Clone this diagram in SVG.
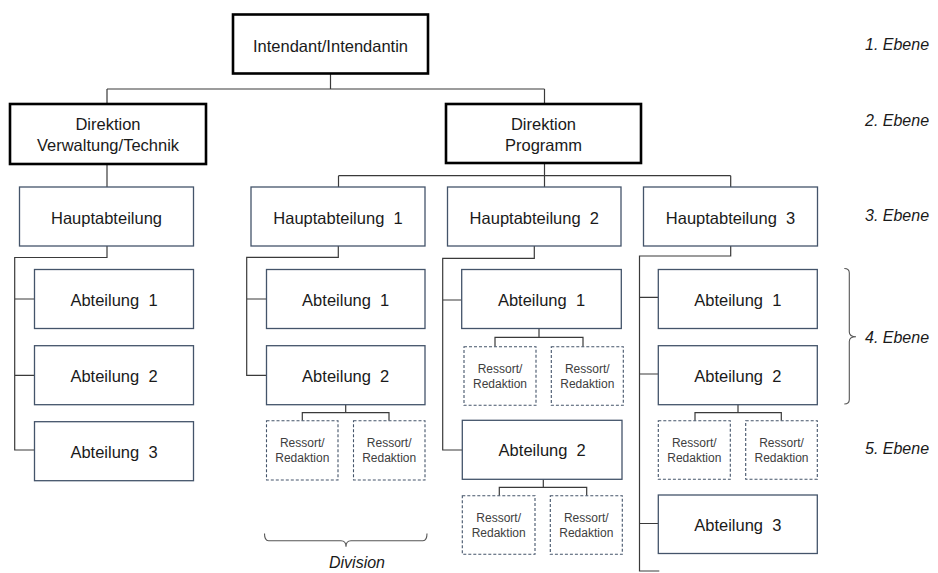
<svg xmlns="http://www.w3.org/2000/svg" width="938" height="573" viewBox="0 0 938 573">
<style>
  .thick { fill: #fff; stroke: #000; stroke-width: 2.6; }
  .thin { fill: #fff; stroke: #44546a; stroke-width: 1.3; }
  .dash { fill: #fff; stroke: #44546a; stroke-width: 1.1; stroke-dasharray: 3 2; }
  .t { font-family: "Liberation Sans", Arial, sans-serif; font-size: 16.5px; fill: #1a1a1a; text-anchor: middle; white-space: pre; }
  .s { font-family: "Liberation Sans", Arial, sans-serif; font-size: 12px; fill: #404040; text-anchor: middle; }
  .lvl { font-family: "Liberation Sans", Arial, sans-serif; font-size: 16px; font-style: italic; fill: #1a1a1a; }
  .con { fill: none; stroke: #3a3a3a; stroke-width: 1.2; }
  .brace { fill: none; stroke: #555; stroke-width: 1.1; }
</style>
<rect width="938" height="573" fill="#fff"/>

<g id="connectors">
  <path class="con" d="M330.5 73 V89 M107 89 H544.5 M107 89 V104 M544.5 89 V104"/>
  <path class="con" d="M107 164 V187"/>
  <path class="con" d="M544.5 163 V187 M338.5 175.7 H730.7 M338.5 175.7 V187 M730.7 175.7 V187"/>
  <path class="con" d="M107 246 V257.5 H14.7 V450 H34.5 M14.7 299 H34.5 M14.7 375.3 H34.5"/>
  <path class="con" d="M338.3 246 V257.3 H246.7 V375.3 H266.5 M246.7 299 H266.5"/>
  <path class="con" d="M345.7 404.3 V412.7 M302.3 420.7 V412.7 H389 V420.7"/>
  <path class="con" d="M534.3 246 V258.3 H442.7 V450 H462.3 M442.7 300 H461.7"/>
  <path class="con" d="M539 328.3 V337.3 M495 346.7 V337.3 H583 V346.7"/>
  <path class="con" d="M543.3 479.3 V487.3 M499.3 495.7 V487.3 H586.7 V495.7"/>
  <path class="con" d="M730.7 246 V256 H639.5 V571 H659.3 M639.5 297.3 H658.3 M639.5 374 H658.3 M639.5 523.5 H658.3"/>
  <path class="con" d="M738 404.3 V412.7 M695 420.7 V412.7 H781.3 V420.7"/>
</g>

<g id="n-intendant">
  <rect class="thick" x="233" y="14.5" width="195" height="59"/>
  <text class="t" x="330.5" y="51.5">Intendant/Intendantin</text>
</g>
<g id="n-dvt">
  <rect class="thick" x="10" y="104" width="196" height="60"/>
  <text class="t" x="108" y="130">Direktion</text>
  <text class="t" x="108" y="150.5">Verwaltung/Technik</text>
</g>
<g id="n-dp">
  <rect class="thick" x="446" y="104" width="195" height="59"/>
  <text class="t" x="543.5" y="130">Direktion</text>
  <text class="t" x="543.5" y="150.5">Programm</text>
</g>

<g id="n-ha">
  <rect class="thin" x="19.5" y="187" width="174" height="59"/>
  <text class="t" x="106.5" y="223.5">Hauptabteilung</text>
</g>
<g id="n-ha1">
  <rect class="thin" x="251" y="187" width="174" height="59"/>
  <text class="t" x="338" y="223.5">Hauptabteilung  1</text>
</g>
<g id="n-ha2">
  <rect class="thin" x="447.5" y="187" width="173.5" height="59"/>
  <text class="t" x="534.3" y="223.5">Hauptabteilung  2</text>
</g>
<g id="n-ha3">
  <rect class="thin" x="643.5" y="187" width="174" height="59"/>
  <text class="t" x="730.5" y="223.5">Hauptabteilung  3</text>
</g>

<g id="n-l-abt1">
  <rect class="thin" x="34.5" y="269.5" width="159" height="59"/>
  <text class="t" x="114" y="305.5">Abteilung  1</text>
</g>
<g id="n-l-abt2">
  <rect class="thin" x="34.5" y="345.7" width="159" height="59"/>
  <text class="t" x="114" y="381.7">Abteilung  2</text>
</g>
<g id="n-l-abt3">
  <rect class="thin" x="34.5" y="421.7" width="159" height="59"/>
  <text class="t" x="114" y="457.7">Abteilung  3</text>
</g>

<g id="n-h1-abt1">
  <rect class="thin" x="266.5" y="269.5" width="158.5" height="59"/>
  <text class="t" x="345.7" y="305.5">Abteilung  1</text>
</g>
<g id="n-h1-abt2">
  <rect class="thin" x="266.5" y="345.7" width="158.5" height="59"/>
  <text class="t" x="345.7" y="381.7">Abteilung  2</text>
</g>
<g id="n-h1-r1">
  <rect class="dash" x="266.5" y="420.7" width="71.5" height="59.3"/>
  <text class="s" x="302.3" y="447.3">Ressort/</text>
  <text class="s" x="302.3" y="462.3">Redaktion</text>
</g>
<g id="n-h1-r2">
  <rect class="dash" x="353.5" y="420.7" width="71.5" height="59.3"/>
  <text class="s" x="389.2" y="447.3">Ressort/</text>
  <text class="s" x="389.2" y="462.3">Redaktion</text>
</g>

<g id="n-h2-abt1">
  <rect class="thin" x="461.7" y="269.5" width="159.6" height="59"/>
  <text class="t" x="541.5" y="305.5">Abteilung  1</text>
</g>
<g id="n-h2-r1">
  <rect class="dash" x="464" y="346.7" width="72" height="58.6"/>
  <text class="s" x="500" y="373.3">Ressort/</text>
  <text class="s" x="500" y="388.3">Redaktion</text>
</g>
<g id="n-h2-r2">
  <rect class="dash" x="551.3" y="346.7" width="72" height="58.6"/>
  <text class="s" x="587.3" y="373.3">Ressort/</text>
  <text class="s" x="587.3" y="388.3">Redaktion</text>
</g>
<g id="n-h2-abt2">
  <rect class="thin" x="462.3" y="420.3" width="159.7" height="59"/>
  <text class="t" x="542.2" y="456.3">Abteilung  2</text>
</g>
<g id="n-h2-r3">
  <rect class="dash" x="462.3" y="495.7" width="72.7" height="58.6"/>
  <text class="s" x="498.7" y="522.3">Ressort/</text>
  <text class="s" x="498.7" y="537.3">Redaktion</text>
</g>
<g id="n-h2-r4">
  <rect class="dash" x="550.3" y="495.7" width="72" height="58.6"/>
  <text class="s" x="586.3" y="522.3">Ressort/</text>
  <text class="s" x="586.3" y="537.3">Redaktion</text>
</g>

<g id="n-h3-abt1">
  <rect class="thin" x="658.3" y="269.5" width="159" height="59"/>
  <text class="t" x="737.8" y="305.5">Abteilung  1</text>
</g>
<g id="n-h3-abt2">
  <rect class="thin" x="658.3" y="345.7" width="159" height="59"/>
  <text class="t" x="737.8" y="381.7">Abteilung  2</text>
</g>
<g id="n-h3-r1">
  <rect class="dash" x="658.3" y="420.7" width="72" height="58.6"/>
  <text class="s" x="694.3" y="447.3">Ressort/</text>
  <text class="s" x="694.3" y="462.3">Redaktion</text>
</g>
<g id="n-h3-r2">
  <rect class="dash" x="745.7" y="420.7" width="71.6" height="58.6"/>
  <text class="s" x="781.5" y="447.3">Ressort/</text>
  <text class="s" x="781.5" y="462.3">Redaktion</text>
</g>
<g id="n-h3-abt3">
  <rect class="thin" x="658.3" y="495" width="159" height="58.5"/>
  <text class="t" x="737.8" y="531">Abteilung  3</text>
</g>

<g id="braces">
  <path class="brace" d="M264.5 533.5 Q264.5 540.7 268.5 540.7 H341 Q346 540.7 346 546.7 Q346 540.7 351 540.7 H423 Q427 540.7 427 533.5"/>
  <path class="brace" d="M844.3 268.5 Q849.3 268.5 849.3 273 V332 Q849.3 336.7 856 336.7 Q849.3 336.7 849.3 341.4 V399.5 Q849.3 404 844.3 404"/>
</g>

<g id="labels">
  <text class="lvl" x="865" y="50">1. Ebene</text>
  <text class="lvl" x="865" y="125.5">2. Ebene</text>
  <text class="lvl" x="865" y="221">3. Ebene</text>
  <text class="lvl" x="865" y="342.5">4. Ebene</text>
  <text class="lvl" x="865" y="454">5. Ebene</text>
  <text class="lvl" x="357" y="568" text-anchor="middle">Division</text>
</g>
</svg>
